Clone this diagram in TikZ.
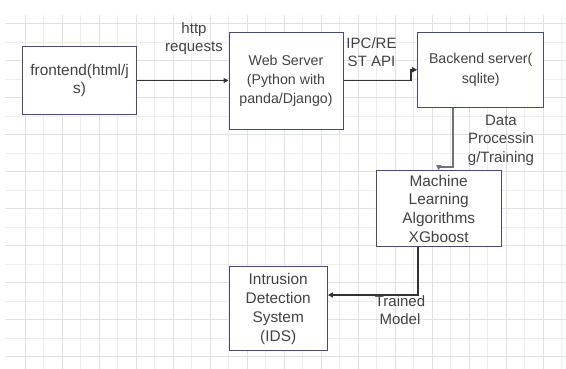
\documentclass[tikz,border=0pt]{standalone}
\usepackage{fontspec}
\setmainfont{Liberation Sans}
\usetikzlibrary{arrows.meta}
\definecolor{boxline}{HTML}{474A78}
\definecolor{txtgray}{HTML}{424242}
\definecolor{gridmajor}{HTML}{E0E0E0}
\definecolor{gridminor}{HTML}{EDEDED}

\begin{document}
\begin{tikzpicture}[x=1pt,y=1pt,
	block/.style={draw=boxline,line width=1pt,fill=white,text=txtgray,align=center,inner sep=0pt,font=\fontsize{15.4}{18.8}\selectfont},
	lbl/.style={text=txtgray,align=center,inner sep=0pt,font=\fontsize{15}{18.5}\selectfont},
	conn/.style={draw=black!80,line width=1.1pt,-{Triangle[length=5pt,width=5pt]}}]
	\useasboundingbox (0,0) rectangle (566,369);
	% grid
	\foreach \x in {43.5,80.5,...,561.5} \draw[gridminor,line width=0.8pt] (\x,0) -- (\x,354);
	\foreach \y in {30.5,67.5,...,326.5} \draw[gridminor,line width=0.8pt] (5,\y) -- (566,\y);
	\foreach \x in {25,62,...,543} \draw[gridmajor,line width=1pt] (\x,0) -- (\x,354);
	\foreach \y in {12,49,...,345} \draw[gridmajor,line width=1pt] (5,\y) -- (566,\y);
	% boxes
	\node[block,minimum width=113.8pt,minimum height=67.6pt] (frontend) at (79.6,288.5) {frontend(html/j\\s)};
	\node[block,minimum width=114pt,minimum height=96.7pt,font=\fontsize{14.2}{19}\selectfont] (webserver) at (286,288.3) {Web Server\\(Python with\\panda/Django)};
	\node[block,minimum width=126pt,minimum height=75pt,font=\fontsize{14.2}{19.3}\selectfont] (backend) at (480.7,299.2) {Backend server(\\sqlite)};
	\node[block,minimum width=125.4pt,minimum height=76pt] (mlalgo) at (438.7,160.3) {Machine\\Learning\\Algorithms\\XGboost};
	\node[block,minimum width=98.4pt,minimum height=84pt,font=\fontsize{15.4}{19}\selectfont] (ids) at (278.2,60.3) {Intrusion\\Detection\\System\\(IDS)};
	% connectors
	\draw[conn] (frontend.east) -- (frontend.east -| webserver.west);
	\draw[conn] (webserver.east) -- ++(67.5,0) |- (backend.west);
	\draw[conn,draw=black!55,line width=1.8pt] ([xshift=-27.7pt]backend.south) -- ++(0,-59.4) -| (mlalgo.north);
	\draw[conn] ([xshift=-20.7pt]mlalgo.south) |- ([yshift=13.7pt]ids.east);
	% labels
	\node[lbl] (lblhttp) at (194,330.5) {http\\requests};
	\node[lbl] (lblipc) at (371.5,317) {IPC/RE\\ST API};
	\node[lbl] (lbldata) at (501,228.8) {Data\\Processin\\g/Training};
	\node[lbl] (lbltrained) at (400,59) {Trained\\Model};
\end{tikzpicture}
\end{document}
